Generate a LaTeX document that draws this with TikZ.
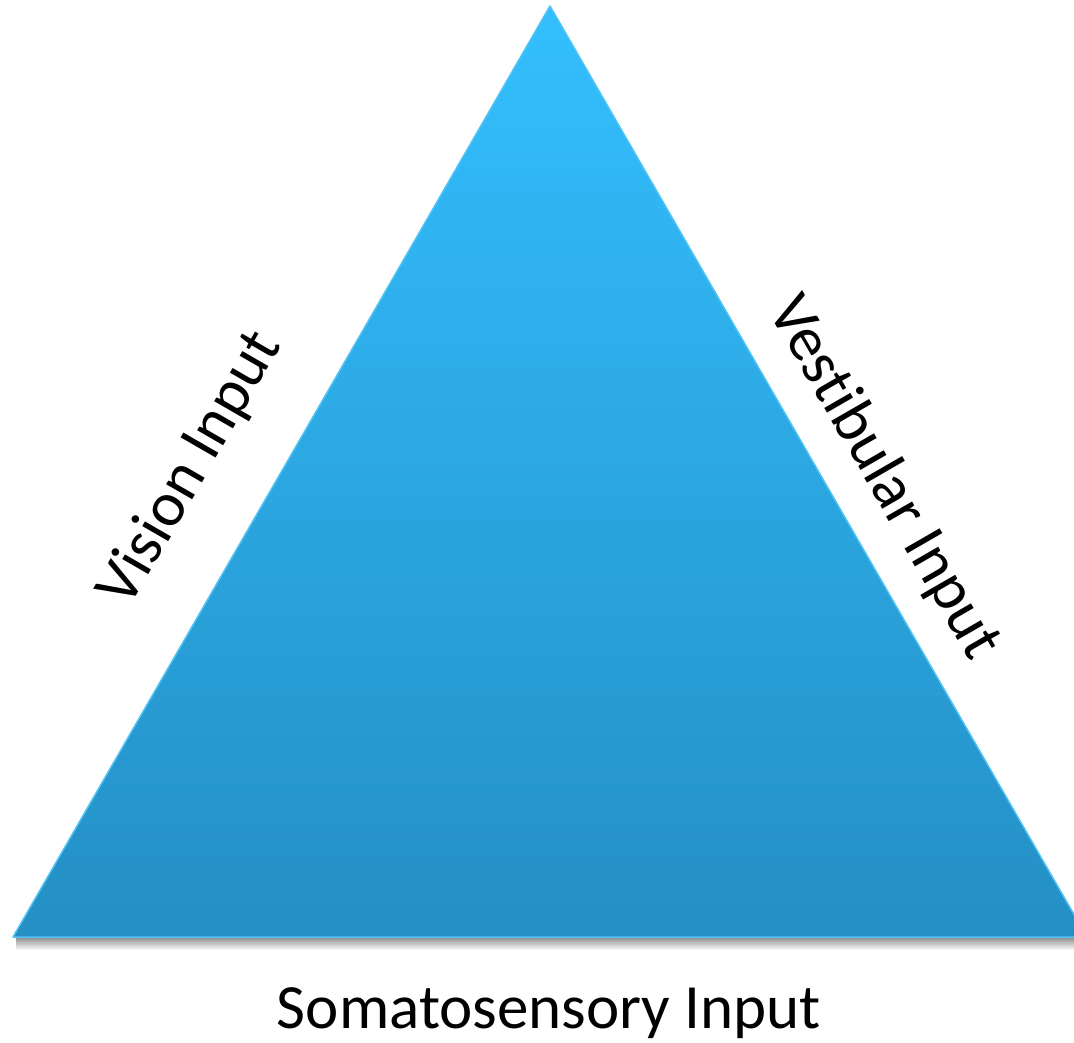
\documentclass[tikz,border=0pt]{standalone}
\usepackage{fontspec}
\setmainfont{Carlito}[RawFeature={-liga;-clig;-dlig;-calt}]
\definecolor{triTop}{RGB}{51,191,255}
\definecolor{triBot}{RGB}{36,143,196}
\definecolor{triEdge}{RGB}{80,195,245}
\begin{document}
\begin{tikzpicture}[x=1pt,y=-1pt,
  lbl/.style={font=\fontsize{63}{68}\selectfont, inner sep=0pt, text=black}]
\useasboundingbox (0,0) rectangle (1074,1043);
\fill[white] (0,0) rectangle (1074,1043);
\clip (0,0) rectangle (1074,1043);
% shadow
\shade[top color=black!45, bottom color=white] (16,937) rectangle (1074,950);
% triangle
\coordinate (apex) at (550,6);
\coordinate (bl) at (13,937);
\coordinate (br) at (1087,937);
\shade[top color=triTop, bottom color=triBot, draw=triEdge, line width=1.5pt, line join=round]
  (apex) -- (bl) -- (br) -- cycle;
% labels
\node[lbl, rotate=60] (vision) at (191,469) {Vision Input};
\node[lbl, rotate=-60] (vest) at (884,478) {Vestibular Input};
\node[lbl, anchor=base] (soma) at (549,1028) {Somatosensory Input};
\end{tikzpicture}
\end{document}
